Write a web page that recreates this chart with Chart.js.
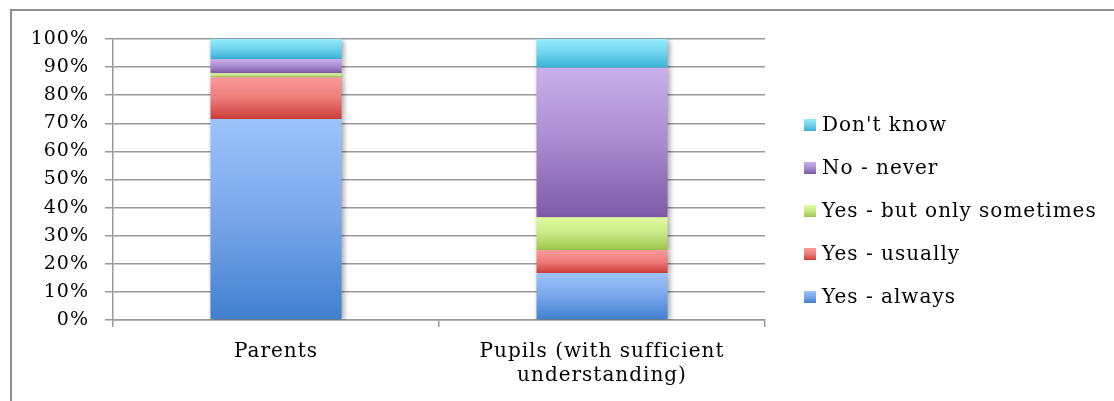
<!DOCTYPE html>
<html>
<head>
<meta charset="utf-8">
<script src="https://cdn.jsdelivr.net/npm/chart.js@4"></script>
<style>
  html, body { margin: 0; padding: 0; background: #fff; overflow: hidden; }
  #wrap { width: 1114px; height: 401px; position: relative; }
</style>
</head>
<body>
<div id="wrap"><canvas id="c" width="1114" height="401"></canvas></div>
<script>
// Survey answers, percentage of respondents in each group
const categories = ['Parents', ['Pupils (with sufficient', 'understanding)']];
const yesAlways = [71.5, 16.7];
const yesUsually = [14.9, 8.2];
const yesSometimes = [1.4, 11.7];
const noNever = [5.1, 53.2];
const dontKnow = [7.1, 10.2];
const seriesNames = ['Yes - always', 'Yes - usually', 'Yes - but only sometimes', 'No - never', "Don't know"];
const yTickValues = [0, 10, 20, 30, 40, 50, 60, 70, 80, 90, 100];

const series = [yesAlways, yesUsually, yesSometimes, noNever, dontKnow];

// Vertical fill shades (top, middle, bottom) for each answer
const shades = [
  ['#9cc3fb', '#79a6ea', '#3f7fce'],
  ['#fb9b9b', '#ec7d7a', '#cd3d3b'],
  ['#e0fda0', '#c8e886', '#9ec64b'],
  ['#c9b0ea', '#a98bd0', '#7e59a8'],
  ['#95ecfd', '#6fd3ec', '#38b2d6']
];

const FONT = 'DejaVu Serif';
const TEXT_SPACING = '1px';

function shadeGradient(ctx, i, top, bottom) {
  const g = ctx.createLinearGradient(0, top, 0, bottom);
  g.addColorStop(0, shades[i][0]);
  g.addColorStop(0.5, shades[i][1]);
  g.addColorStop(1, shades[i][2]);
  return g;
}

// Each stacked segment gets its own top-to-bottom gradient
function segmentFill(context) {
  const chart = context.chart;
  const i = context.datasetIndex;
  const y = chart.scales && chart.scales.y;
  if (!chart.chartArea || !y || context.type !== 'data') return shades[i][1];
  const k = context.dataIndex;
  let start = 0;
  for (let j = 0; j < i; j++) start += series[j][k];
  const end = start + series[i][k];
  return shadeGradient(chart.ctx, i, y.getPixelForValue(end), y.getPixelForValue(start));
}

// Slightly wider text tracking for all labels
const tracking = {
  id: 'tracking',
  beforeUpdate(chart) { chart.ctx.letterSpacing = TEXT_SPACING; },
  beforeDraw(chart) { chart.ctx.letterSpacing = TEXT_SPACING; }
};

// Soft drop shadow under the columns
const columnShadow = {
  id: 'columnShadow',
  beforeDatasetsDraw(chart) {
    const ctx = chart.ctx;
    ctx.save();
    ctx.shadowColor = 'rgba(0,0,0,0.35)';
    ctx.shadowBlur = 5;
    ctx.shadowOffsetX = 2;
    ctx.shadowOffsetY = 2;
  },
  afterDatasetsDraw(chart) {
    chart.ctx.restore();
  }
};

// Frame lines along the top and left of the figure
const frame = {
  id: 'frame',
  beforeDraw(chart) {
    const ctx = chart.ctx;
    ctx.save();
    ctx.fillStyle = '#fff';
    ctx.fillRect(0, 0, chart.width, chart.height);
    ctx.strokeStyle = '#8e8e8e';
    ctx.lineWidth = 2;
    ctx.beginPath();
    ctx.moveTo(11, chart.height);
    ctx.lineTo(11, 10);
    ctx.lineTo(chart.width, 10);
    ctx.stroke();
    ctx.restore();
  }
};

// Legend column to the right of the plot, last series on top
const sideLegend = {
  id: 'sideLegend',
  afterDraw(chart) {
    const ctx = chart.ctx;
    const area = chart.chartArea;
    const box = 12;
    const x = area.right + 39;
    const firstRow = area.top + 86;
    const rowGap = 43;
    ctx.save();
    ctx.letterSpacing = TEXT_SPACING;
    ctx.font = '20px "' + FONT + '"';
    ctx.fillStyle = '#000';
    ctx.textBaseline = 'middle';
    const ds = chart.data.datasets;
    for (let r = 0; r < ds.length; r++) {
      const i = ds.length - 1 - r;
      const cy = firstRow + r * rowGap;
      ctx.fillStyle = shadeGradient(ctx, i, cy - box / 2, cy + box / 2);
      ctx.fillRect(x, cy - box / 2, box, box);
      ctx.fillStyle = '#000';
      ctx.fillText(ds[i].label, x + box + 6, cy + 1);
    }
    ctx.restore();
  }
};

new Chart(document.getElementById('c'), {
  type: 'bar',
  data: {
    labels: categories,
    datasets: series.map((vals, i) => ({
      label: seriesNames[i],
      data: vals,
      backgroundColor: segmentFill,
      borderWidth: 0,
      barPercentage: 0.402,
      categoryPercentage: 1
    }))
  },
  options: {
    responsive: false,
    animation: false,
    devicePixelRatio: 1,
    layout: { padding: { left: 11, top: 39, right: 349, bottom: 0 } },
    plugins: {
      tooltip: { enabled: false },
      legend: { display: false }
    },
    scales: {
      x: {
        stacked: true,
        grid: { drawOnChartArea: false, color: '#999', lineWidth: 1.5, tickLength: 7 },
        border: { color: '#999', width: 1.5 },
        ticks: { color: '#000', font: { family: FONT, size: 20, lineHeight: 1.2 }, padding: 13, maxRotation: 0 },
        afterFit(s) { s.height = 81; }
      },
      y: {
        stacked: true,
        min: 0,
        max: 100,
        afterBuildTicks(s) { s.ticks = yTickValues.map(v => ({ value: v })); },
        ticks: { color: '#000', font: { family: FONT, size: 19 }, padding: 16, callback: v => v + '%' },
        grid: { color: '#999', lineWidth: 1.5, tickLength: 8 },
        border: { color: '#999', width: 1.5 },
        afterFit(s) { s.width = 102; }
      }
    }
  },
  plugins: [tracking, frame, columnShadow, sideLegend]
});
</script>
</body>
</html>
